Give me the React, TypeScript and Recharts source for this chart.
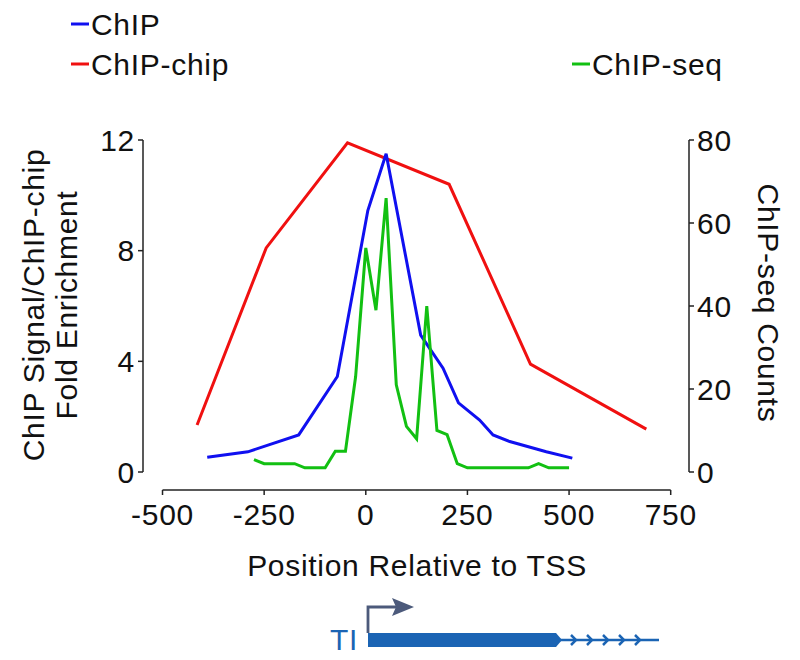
import { Legend, Line, LineChart, ReferenceLine, XAxis, YAxis } from "recharts";

// ChIP (qPCR) signal, left axis
const chipPos = [-390, -290, -165, -70, 5, 50, 135, 190, 228, 280, 313, 354, 444, 508];
const chipSignal = [0.53, 0.73, 1.34, 3.45, 9.45, 11.5, 4.95, 3.75, 2.5, 1.88, 1.34, 1.1, 0.73, 0.5];

// ChIP-chip fold enrichment, left axis
const chipChipPos = [-415, -245, -45, 205, 405, 690];
const chipChipFold = [1.7, 8.1, 11.9, 10.4, 3.9, 1.55];

// ChIP-seq counts, right axis
const chipSeqPos = [-275, -250, -175, -150, -100, -75, -50, -25, 0, 25, 50, 75, 100, 125, 150, 175, 200, 225, 250, 400, 425, 450, 500];
const chipSeqCounts = [3, 2, 2, 1, 1, 5, 5, 23, 54, 39, 66, 21, 11, 8, 40, 10, 9, 2, 1, 1, 2, 1, 1];

const xTicks = [-500, -250, 0, 250, 500, 750];
const leftTicks = [0, 4, 8, 12];
const rightTicks = [0, 20, 40, 60, 80];

const FONT = "'Liberation Sans', Arial, Helvetica, sans-serif";
const FS = 30;
const LS = 0.7;
const AXIS = "#222";
const BLUE = "#1010f0";
const RED = "#f01010";
const GREEN = "#12c012";
const GENE = "#1b64b4";

const toPoints = (xs: number[], ys: number[]) => xs.map((x, i) => ({ x, y: ys[i] }));

const chipData = toPoints(chipPos, chipSignal);
const chipChipData = toPoints(chipChipPos, chipChipFold);
const chipSeqData = toPoints(chipSeqPos, chipSeqCounts);

// x axis is drawn offset 18px below the plot bottom
const X_AXIS_DROP = 18;
const xAxisLineValue = -X_AXIS_DROP / (332 / 12);

const tickStyle = { fontSize: FS, fill: "#111", fontFamily: FONT, letterSpacing: LS };

function XTick({ x, y, payload }: any) {
  return (
    <g>
      <line x1={x} x2={x} y1={y + X_AXIS_DROP} y2={y + X_AXIS_DROP + 5} stroke={AXIS} strokeWidth={1.5} />
      <text x={x} y={y + 53} textAnchor="middle" style={tickStyle}>
        {payload.value}
      </text>
    </g>
  );
}

function LegendBox() {
  const items = [
    { name: "ChIP", color: BLUE, x: 71, y: 24 },
    { name: "ChIP-chip", color: RED, x: 71, y: 64 },
    { name: "ChIP-seq", color: GREEN, x: 572, y: 64 },
  ];
  return (
    <svg width={800} height={90}>
      {items.map((it) => (
        <g key={it.name}>
          <line x1={it.x} x2={it.x + 18} y1={it.y} y2={it.y} stroke={it.color} strokeWidth={3} />
          <text x={it.x + 20} y={it.y + 10.5} style={tickStyle}>
            {it.name}
          </text>
        </g>
      ))}
    </svg>
  );
}

export default function App() {
  const chevrons = [576, 592, 608, 624, 640];
  return (
    <div style={{ position: "absolute", left: 0, top: 0, width: 800, height: 660, background: "#fff" }}>
      <LineChart width={800} height={660} margin={{ top: 140, right: 51, bottom: 148, left: 83 }}>
        <XAxis
          type="number"
          dataKey="x"
          domain={[-548, 795]}
          ticks={xTicks}
          interval={0}
          allowDataOverflow
          axisLine={false}
          tickLine={false}
          tickSize={0}
          tickMargin={0}
          height={40}
          tick={<XTick />}
        />
        <YAxis
          yAxisId="left"
          orientation="left"
          domain={[0, 12]}
          ticks={leftTicks}
          width={60}
          tickSize={5}
          tickMargin={3}
          axisLine={{ stroke: AXIS, strokeWidth: 1.5 }}
          tickLine={{ stroke: AXIS, strokeWidth: 1.5 }}
          tick={tickStyle}
        />
        <YAxis
          yAxisId="right"
          orientation="right"
          domain={[0, 80]}
          ticks={rightTicks}
          width={60}
          tickSize={5}
          tickMargin={3}
          axisLine={{ stroke: AXIS, strokeWidth: 1.5 }}
          tickLine={{ stroke: AXIS, strokeWidth: 1.5 }}
          tick={tickStyle}
        />
        <ReferenceLine
          yAxisId="left"
          ifOverflow="visible"
          segment={[
            { x: -500, y: xAxisLineValue },
            { x: 750, y: xAxisLineValue },
          ]}
          stroke={AXIS}
          strokeWidth={1.5}
        />
        <Legend
          layout="horizontal"
          verticalAlign="middle"
          align="center"
          wrapperStyle={{ position: "absolute", top: 0, left: 0, width: 800, height: 90 }}
          content={() => <LegendBox />}
        />
        <Line
          name="ChIP-chip"
          data={chipChipData}
          dataKey="y"
          yAxisId="left"
          type="linear"
          stroke={RED}
          strokeWidth={3}
          dot={false}
          isAnimationActive={false}
        />
        <Line
          name="ChIP"
          data={chipData}
          dataKey="y"
          yAxisId="left"
          type="linear"
          stroke={BLUE}
          strokeWidth={3}
          dot={false}
          isAnimationActive={false}
        />
        <Line
          name="ChIP-seq"
          data={chipSeqData}
          dataKey="y"
          yAxisId="right"
          type="linear"
          stroke={GREEN}
          strokeWidth={3}
          dot={false}
          isAnimationActive={false}
        />
      </LineChart>

      {/* axis titles and gene model */}
      <svg
        width={800}
        height={660}
        style={{ position: "absolute", left: 0, top: 0, pointerEvents: "none", letterSpacing: LS }}
        fontFamily={FONT}
      >
        <text x={33} y={305} transform="rotate(-90 33 305)" textAnchor="middle" dominantBaseline="central" fontSize={FS} fill="#111">
          ChIP Signal/ChIP-chip
        </text>
        <text x={66} y={305} transform="rotate(-90 66 305)" textAnchor="middle" dominantBaseline="central" fontSize={FS} fill="#111">
          Fold Enrichment
        </text>
        <text x={768} y={303} transform="rotate(90 768 303)" textAnchor="middle" dominantBaseline="central" fontSize={FS} fill="#111">
          ChIP-seq Counts
        </text>
        <text x={417} y={576} textAnchor="middle" fontSize={FS} fill="#111">
          Position Relative to TSS
        </text>

        <text x={330} y={650} fontSize={FS} fill={GENE}>
          TI
        </text>
        <polygon points="368,633 556,633 562,640 556,647 368,647" fill={GENE} />
        <line x1={560} x2={659} y1={640} y2={640} stroke={GENE} strokeWidth={2.5} />
        {chevrons.map((cx) => (
          <polyline key={cx} points={`${cx - 5},635 ${cx},640 ${cx - 5},645`} fill="none" stroke={GENE} strokeWidth={2.5} />
        ))}
        <polyline points="368,633 368,607 400,607" fill="none" stroke="#4c5a7b" strokeWidth={2.8} />
        <polygon points="392,598 414,607 392,616 396,607" fill="#4c5a7b" />
      </svg>
    </div>
  );
}
